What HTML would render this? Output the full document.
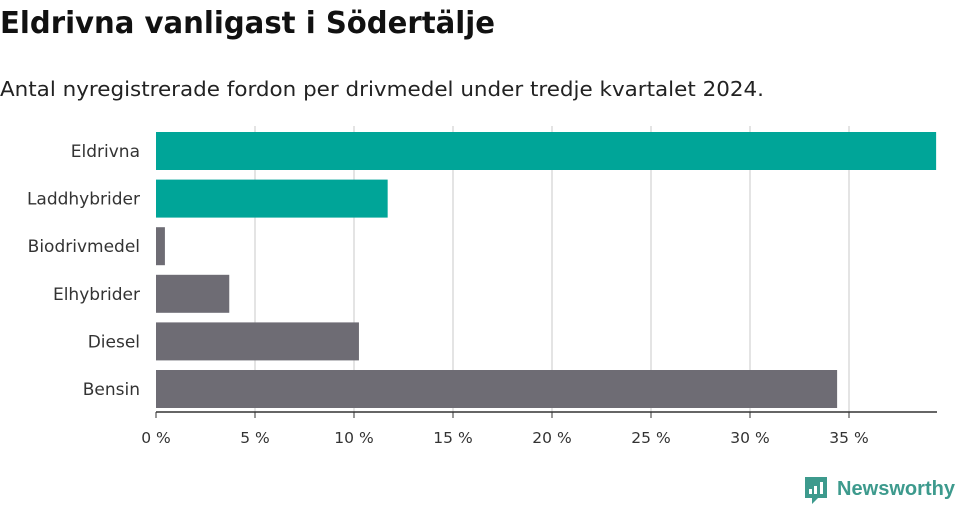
<!DOCTYPE html>
<html><head><meta charset="utf-8"><style>
body{margin:0;width:960px;height:505px;background:#fff;font-family:"DejaVu Sans","Liberation Sans",sans-serif;overflow:hidden}
svg{position:absolute;left:0;top:0}
</style></head><body>
<svg width="960" height="505">
<text x="0" y="33" font-size="30" font-weight="bold" fill="#111" font-family="DejaVu Sans, sans-serif" textLength="495" lengthAdjust="spacingAndGlyphs">Eldrivna vanligast i Södertälje</text>
<text x="0" y="96" font-size="20" fill="#222" textLength="764" lengthAdjust="spacingAndGlyphs">Antal nyregistrerade fordon per drivmedel under tredje kvartalet 2024.</text>
<g id="grid"></g>
<g id="bars"></g>
<g id="labels"></g>
<g id="ticks"></g>
<g>
<path d="M805 477 h22 v21 h-9 l-6 6 v-6 h-7 z" fill="#3d9a8d"/>
<rect x="809" y="489" width="3" height="5" fill="#fff"/><rect x="814" y="486" width="3" height="8" fill="#fff"/><rect x="820" y="482" width="3" height="12" fill="#fff"/>
<text x="837" y="495" font-size="20" font-weight="bold" fill="#3d9a8d" font-family="Liberation Sans, sans-serif" textLength="118" lengthAdjust="spacingAndGlyphs">Newsworthy</text>
</g>
</svg>
<script>
const categories=["Eldrivna","Laddhybrider","Biodrivmedel","Elhybrider","Diesel","Bensin"];
const values=[39.4,11.7,0.45,3.7,10.25,34.4];
const colors=["#00a598","#00a598","#6e6c74","#6e6c74","#6e6c74","#6e6c74"];
const tickValues=[0,5,10,15,20,25,30,35];
const tickLabels=["0 %","5 %","10 %","15 %","20 %","25 %","30 %","35 %"];
const NS="http://www.w3.org/2000/svg";
const x0=156,pxPer=19.8,xEnd=937,yTop=132,step=47.6,bh=38,axisY=412;
const xs=v=>x0+v*pxPer;
function mk(t,a,p){const e=document.createElementNS(NS,t);for(const k in a)e.setAttribute(k,a[k]);p.appendChild(e);return e;}
const grid=document.getElementById('grid'),bars=document.getElementById('bars'),labels=document.getElementById('labels'),ticks=document.getElementById('ticks');
tickValues.forEach((v,i)=>{
 if(i>0){const g=mk('line',{x1:xs(v),x2:xs(v),y1:126,y2:axisY,stroke:'#dcdcdc','stroke-width':1.5},grid);
 
 }
 const tk=mk('line',{x1:xs(v),x2:xs(v),y1:axisY,y2:axisY+6,stroke:'#333'},ticks);
 
 
 const t=mk('text',{x:xs(v),y:443,'font-size':15.5,'text-anchor':'middle',fill:'#333'},ticks);
 t.textContent=tickLabels[i];
 
 
});
categories.forEach((c,i)=>{
 const y=yTop+i*step;
 const r=mk('rect',{x:x0,y:y,width:xs(values[i])-x0,height:bh,fill:colors[i]},bars);
 
 
 const t=mk('text',{x:140,y:y+bh/2+6,'font-size':17,'text-anchor':'end',fill:'#333'},labels);
 t.textContent=c;
 
 
});
const ax=mk('line',{x1:x0,x2:xEnd,y1:axisY,y2:axisY,stroke:'#333','stroke-width':1.5},ticks);


</script>
</body></html>
